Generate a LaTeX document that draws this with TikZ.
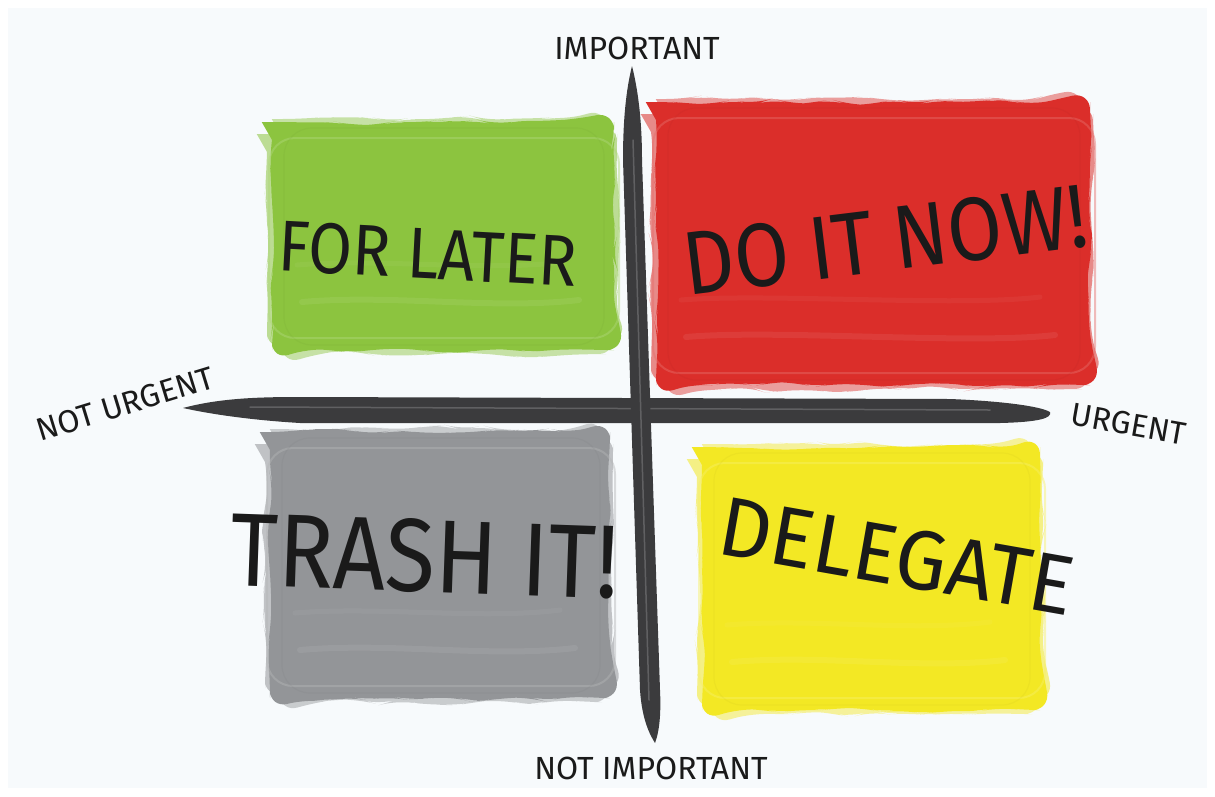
\documentclass[tikz,border=0pt]{standalone}
\usepackage{fontspec}
\newfontfamily\hand{Fira Sans}
\newfontfamily\handn[FakeStretch=0.88]{Fira Sans}
\newfontfamily\handm[FakeStretch=0.97]{Fira Sans}
\usetikzlibrary{decorations.pathmorphing}
\definecolor{panel}{HTML}{F7FAFC}
\definecolor{cgreen}{HTML}{8CC43F}
\definecolor{cred}{HTML}{DB2E2A}
\definecolor{cgray}{HTML}{939598}
\definecolor{cyellow}{HTML}{F3E824}
\definecolor{axis}{HTML}{3B3B3D}
\definecolor{axishi}{HTML}{6A6A6C}
\definecolor{ink}{HTML}{1A1A1A}
\tikzset{
  brush/.style={decorate, decoration={random steps, segment length=20pt, amplitude=3.5pt}, rounded corners=18pt},
  big/.style 2 args={font=#1\fontsize{#2}{#2}\selectfont, text=ink, inner sep=0pt},
  small/.style={font=\hand\fontsize{32}{32}\selectfont, text=ink, inner sep=0pt},
}
\newcommand\brushbox[5]{%
  \fill[#1, brush] (#2,#3) rectangle (#4,#5);
  \fill[#1, opacity=0.55, brush] ({#2-5},{#3+12}) rectangle ({#4+3},{#5-10});
  \fill[#1, opacity=0.45, brush] ({#2+10},{#3-3}) rectangle ({#4-8},{#5+4});
  \draw[#1!70!white, line width=2pt, opacity=0.45, rounded corners=26pt] ({#2-3},{#3+16}) rectangle ({#4+5},{#5-12});
  \draw[#1!80!black, line width=1.2pt, opacity=0.12, rounded corners=28pt] ({#2+12},{#3+6}) rectangle ({#4-10},{#5-5});
  \draw[#1!80!white, line width=6pt, opacity=0.35, line cap=round] ({#2+30},{#5-48}) .. controls ({#2+120},{#5-56}) and ({#4-120},{#5-40}) .. ({#4-35},{#5-50});
  \draw[#1!85!white, line width=5pt, opacity=0.3, line cap=round] ({#2+25},{#5-85}) .. controls ({#2+110},{#5-92}) and ({#4-130},{#5-78}) .. ({#4-50},{#5-88});
}
\begin{document}
\begin{tikzpicture}[x=1pt,y=-1pt]
\useasboundingbox (0,0) rectangle (1215,796);
\fill[white] (0,0) rectangle (1215,796);
\fill[panel] (8,8) rectangle (1207,788);

% quadrant boxes
\brushbox{cgreen}{272}{122}{614}{350}
\brushbox{cred}{656}{102}{1090}{385}
\brushbox{cgray}{270}{432}{610}{698}
\brushbox{cyellow}{702}{447}{1040}{710}

% horizontal axis
\fill[axis] (183,408) .. controls (220,398) and (260,397) .. (300,397) -- (950,399)
  .. controls (1000,401) and (1040,406) .. (1050,412)
  .. controls (1052,418) and (1040,422) .. (1000,423) -- (300,423)
  .. controls (250,420) and (210,414) .. (183,408) -- cycle;
\draw[axishi, line width=1.5pt, line cap=round, opacity=0.8] (250,407) -- (990,410);

% vertical axis
\fill[axis] (632,66) .. controls (626,90) and (623,120) .. (623,160) -- (640,690)
  .. controls (642,720) and (650,735) .. (655,743)
  .. controls (660,730) and (661,710) .. (660,690) -- (642,160)
  .. controls (642,120) and (638,90) .. (632,66) -- cycle;
\draw[axishi, line width=1.5pt, line cap=round, opacity=0.8] (633,140) -- (649,700);

% axis labels
\node[small] (imp) at (637,48) {IMPORTANT};
\node[small] (nimp) at (651,768) {NOT IMPORTANT};
\node[small, rotate=17] (nurg) at (125,404) {NOT URGENT};
\node[small, rotate=-10] (urg) at (1129,424) {URGENT};

% quadrant labels
\node[big={\handn}{72}, rotate=-3] (later) at (428,254) {FOR LATER};
\node[big={\handn}{90}, rotate=7] (now) at (885,240) {DO IT NOW!};
\node[big={\handn}{104}, rotate=-2] (trash) at (425,556) {TRASH IT!};
\node[big={\handm}{84}, rotate=-10] (deleg) at (897,556) {DELEGATE};
\end{tikzpicture}
\end{document}
